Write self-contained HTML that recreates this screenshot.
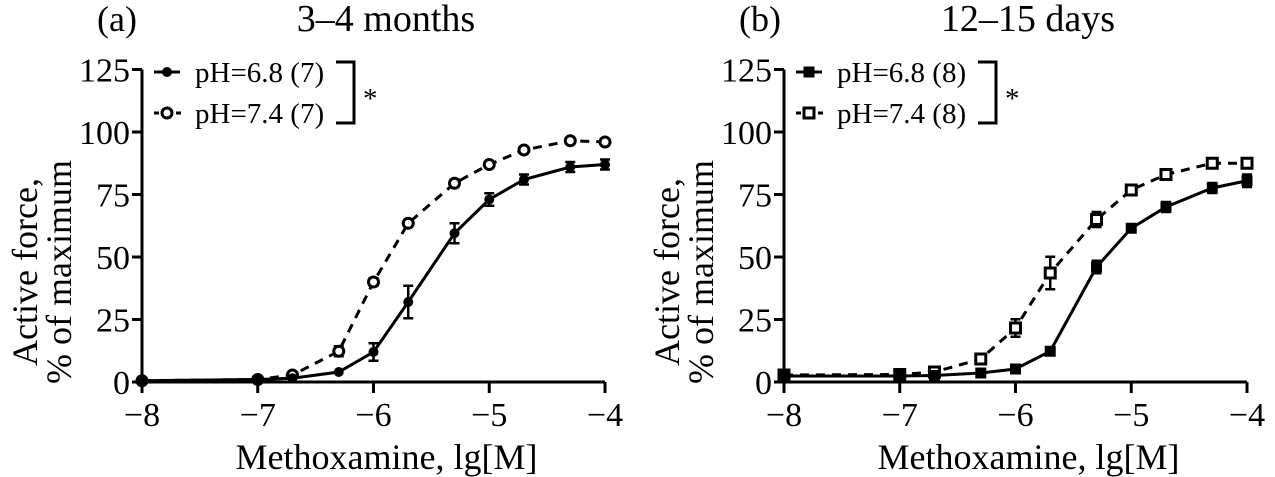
<!DOCTYPE html>
<html><head><meta charset="utf-8"><style>
html,body{margin:0;padding:0;background:#fff;}
svg{display:block;font-family:"Liberation Serif",serif;}
</style></head><body>
<svg id="chart" width="1275" height="477" viewBox="0 0 1275 477" xmlns="http://www.w3.org/2000/svg"></svg>
<script>
const xValues = [-8, -7, -6.7, -6.3, -6, -5.7, -5.3, -5, -4.7, -4.3, -4];
const xTicks = [-8, -7, -6, -5, -4];
const yTicks = [0, 25, 50, 75, 100, 125];
const aSolid = [0.5, 1, 1.5, 4, 12, 32, 59.5, 73, 81, 86, 87];
const aSolidErr = [0, 0, 0, 0, 3.5, 6.5, 4, 2.5, 2, 2, 2];
const aOpen = [0.5, 1, 2.8, 12.3, 40, 63.5, 79.5, 87, 92.8, 96.5, 96];
const aOpenErr = [0, 0, 0, 2, 1.5, 1, 1.5, 1, 1, 1, 1];
const bSolid = [2.4, 2.4, 2.6, 3.6, 5.2, 12.3, 46, 61.5, 70, 77.6, 80.5];
const bSolidErr = [0, 0, 0, 0, 1, 1, 2.5, 1.5, 2, 2, 2.5];
const bOpen = [2.8, 3, 4, 9.2, 21.6, 43.6, 65, 76.8, 83, 87.5, 87.5];
const bOpenErr = [0, 0, 0, 0, 3.5, 6.5, 3, 1.5, 1, 1, 1];
const panelTitles = ["3–4 months", "12–15 days"];
const panelLetters = ["(a)", "(b)"];
const legendA = ["pH=6.8 (7)", "pH=7.4 (7)"];
const legendB = ["pH=6.8 (8)", "pH=7.4 (8)"];

const NS = "http://www.w3.org/2000/svg";
const svg = document.getElementById("chart");
function mk(tag, attrs, parent) {
  const e = document.createElementNS(NS, tag);
  for (const k in attrs) e.setAttribute(k, attrs[k]);
  (parent || svg).appendChild(e);
  return e;
}

function drawPanel(ox, key, solid, solidErr, open, openErr, letter, title, legend, marker) {
  const x0 = ox, x1 = ox + 463, y0 = 382, y125 = 69.5;
  const sx = v => x0 + (v + 8) / 4 * (x1 - x0);
  const sy = v => y0 - v / 125 * (y0 - y125);
  const g = mk("g", {});
  
  

  const ax = mk("path", {d: `M${x0} ${y125} V${y0} H${x1}`, fill: "none", stroke: "#000", "stroke-width": 3}, g);
  
  
  yTicks.forEach(t => {
    mk("line", {x1: x0 - 10, x2: x0, y1: sy(t), y2: sy(t), stroke: "#000", "stroke-width": 3}, g);
    const tx = mk("text", {x: x0 - 12, y: sy(t) + 12, "text-anchor": "end", "font-size": 34}, g);
    tx.textContent = t;
    
    
  });
  xTicks.forEach(t => {
    mk("line", {x1: sx(t), x2: sx(t), y1: y0, y2: y0 + 11, stroke: "#000", "stroke-width": 3}, g);
    const tx = mk("text", {x: sx(t), y: y0 + 44, "text-anchor": "middle", "font-size": 34}, g);
    tx.textContent = "−" + Math.abs(t);
    
    
  });
  const xt = mk("text", {x: (x0 + x1) / 2 + 13, y: 469, "text-anchor": "middle", "font-size": 36}, g);
  xt.textContent = "Methoxamine, lg[M]";
  
  
  const yt = mk("text", {transform: `translate(${x0 - 105},${272}) rotate(-90)`, "text-anchor": "middle", "font-size": 36}, g);
  
  
  const t1 = mk("tspan", {x: 0, y: 0}, yt); t1.textContent = "Active force,";
  const t2 = mk("tspan", {x: 0, y: 34}, yt); t2.textContent = "% of maximum";
  const lt = mk("text", {x: x0 - 45, y: 31, "font-size": 36}, g);
  lt.textContent = letter;
  
  
  const tt = mk("text", {x: x0 + 258, y: 31, "text-anchor": "middle", "font-size": 38}, g);
  tt.setAttribute('x', x0 + 258);
  tt.setAttribute('x', x0 + 258);
  tt.setAttribute('x', x0 + 258);
  tt.textContent = title;
  
  
  tt.setAttribute('x', x0 + 258);
  tt.setAttribute('transform', 'translate(-14,0)');

  function series(vals, errs, dashed, filled, name) {
    const sg = mk("g", {}, g);
    
    
    const d = vals.map((v, i) => (i ? "L" : "M") + sx(xValues[i]) + " " + sy(v)).join(" ");
    mk("path", {d, fill: "none", stroke: "#000", "stroke-width": 3, "stroke-dasharray": dashed ? "9 7" : "none"}, sg);
    vals.forEach((v, i) => {
      const cx = sx(xValues[i]), cy = sy(v), e = errs[i];
      if (e > 0) {
        const yt = sy(v + e), yb = sy(v - e);
        const eb = mk("path", {d: `M${cx} ${yt} V${yb} M${cx - 5} ${yt} H${cx + 5} M${cx - 5} ${yb} H${cx + 5}`, stroke: "#000", "stroke-width": 2.5, fill: "none"}, sg);
        
        
      }
      let m;
      if (marker === "circle") {
        m = mk("circle", {cx, cy, r: filled ? 4.5 : 5, fill: filled ? "#000" : "#fff", stroke: "#000", "stroke-width": filled ? 1 : 3}, sg);
      } else {
        m = mk("rect", {x: cx - 5, y: cy - 5, width: 10, height: 10, fill: filled ? "#000" : "#fff", stroke: "#000", "stroke-width": filled ? 1 : 3}, sg);
      }
      
      
    });
  }
  series(open, openErr, true, false, 'series-ph74-' + key);
  series(solid, solidErr, false, true, 'series-ph68-' + key);

  const lg = mk("g", {}, g);
  
  
  const lx = x0 + 12;
  [0, 1].forEach(i => {
    const ly = i === 0 ? 72 : 113;
    const e = mk("g", {}, lg);
    
    
    if (i === 0) mk("line", {x1: lx, x2: lx + 26, y1: ly, y2: ly, stroke: "#000", "stroke-width": 3}, e);
    else {
      mk("line", {x1: lx, x2: lx + 5, y1: ly, y2: ly, stroke: "#000", "stroke-width": 3}, e);
      mk("line", {x1: lx + 22, x2: lx + 27, y1: ly, y2: ly, stroke: "#000", "stroke-width": 3}, e);
    }
    const mx = lx + 13;
    if (marker === "circle") mk("circle", {cx: mx, cy: ly, r: i ? 5 : 4.5, fill: i ? "#fff" : "#000", stroke: "#000", "stroke-width": i ? 3 : 1}, e);
    else mk("rect", {x: mx - 5, y: ly - 5, width: 10, height: 10, fill: i ? "#fff" : "#000", stroke: "#000", "stroke-width": i ? 3 : 1}, e);
    const t = mk("text", {x: lx + 41, y: ly + 10, "font-size": 29}, e);
    t.textContent = (i ? legend[1] : legend[0]);
  });
  const bx = x0 + 212;
  mk("path", {d: `M${bx - 18} 62 H${bx} V123 H${bx - 18}`, fill: "none", stroke: "#000", "stroke-width": 3}, lg);
  const st = mk("text", {x: bx + 9, y: 108, "font-size": 29}, lg);
  st.textContent = "*";
  
  
}

drawPanel(142, "a", aSolid, aSolidErr, aOpen, aOpenErr, panelLetters[0], panelTitles[0], legendA, "circle");
drawPanel(784, "b", bSolid, bSolidErr, bOpen, bOpenErr, panelLetters[1], panelTitles[1], legendB, "square");
</script>
</body></html>
